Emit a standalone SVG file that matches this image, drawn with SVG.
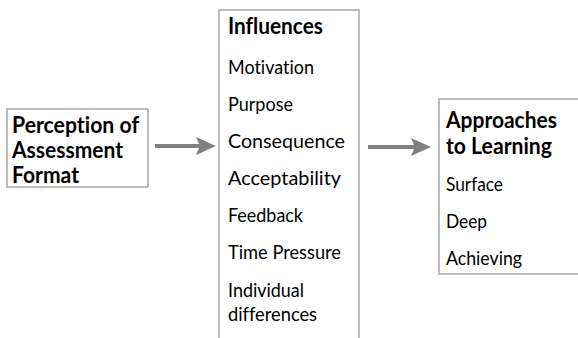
<svg xmlns="http://www.w3.org/2000/svg" width="578" height="338" viewBox="0 0 578 338">
<style>
.box{fill:#fff;stroke:#a6a6a6;stroke-width:1.5}
.t{font-family:Lato,"Open Sans","Liberation Sans",sans-serif;font-size:20px;fill:#000;font-variant-ligatures:none}
.b{font-weight:bold;font-size:22px}
.arrow{fill:#808080}
</style>
<defs>
<filter id="soft" filterUnits="userSpaceOnUse" x="140" y="120" width="310" height="50"><feGaussianBlur stdDeviation="0.6"/></filter>
</defs>
<rect width="578" height="338" fill="#fff"/>
<g id="perception">
<rect class="box" x="7" y="109" width="141" height="78"/>
<text class="t b" x="12" y="133" textLength="127" lengthAdjust="spacingAndGlyphs">Perception of</text>
<text class="t b" x="12" y="158" textLength="111" lengthAdjust="spacingAndGlyphs">Assessment</text>
<text class="t b" x="12" y="183" textLength="67" lengthAdjust="spacingAndGlyphs">Format</text>
</g>
<g id="influences">
<rect class="box" x="219" y="10" width="140" height="340"/>
<text class="t b" x="228" y="34" textLength="95" lengthAdjust="spacingAndGlyphs">Influences</text>
<text class="t" x="228" y="74" textLength="86" lengthAdjust="spacingAndGlyphs">Motivation</text>
<text class="t" x="228" y="111" textLength="65" lengthAdjust="spacingAndGlyphs">Purpose</text>
<text class="t" x="228" y="148" textLength="117" lengthAdjust="spacingAndGlyphs">Consequence</text>
<text class="t" x="228" y="185" textLength="113" lengthAdjust="spacingAndGlyphs">Acceptability</text>
<text class="t" x="228" y="222" textLength="75" lengthAdjust="spacingAndGlyphs">Feedback</text>
<text class="t" x="228" y="259" textLength="113" lengthAdjust="spacingAndGlyphs">Time Pressure</text>
<text class="t" x="228" y="297" textLength="76" lengthAdjust="spacingAndGlyphs">Individual</text>
<text class="t" x="228" y="321" textLength="89" lengthAdjust="spacingAndGlyphs">differences</text>
</g>
<g id="approaches">
<rect class="box" x="439" y="99" width="160" height="175"/>
<text class="t b" x="446" y="128" textLength="111" lengthAdjust="spacingAndGlyphs">Approaches</text>
<text class="t b" x="446" y="154" textLength="106" lengthAdjust="spacingAndGlyphs">to Learning</text>
<text class="t" x="446" y="191" textLength="57" lengthAdjust="spacingAndGlyphs">Surface</text>
<text class="t" x="446" y="228" textLength="41" lengthAdjust="spacingAndGlyphs">Deep</text>
<text class="t" x="446" y="265" textLength="76" lengthAdjust="spacingAndGlyphs">Achieving</text>
</g>
<g id="connectors" filter="url(#soft)">
<path class="arrow" d="M155,144 L199,144 L196,137 L216,146 L196,155 L199,148 L155,148 Z"/>
<path class="arrow" d="M368,145 L414,145 L411,138 L431,147 L411,156 L414,149 L368,149 Z"/>
</g>
</svg>
